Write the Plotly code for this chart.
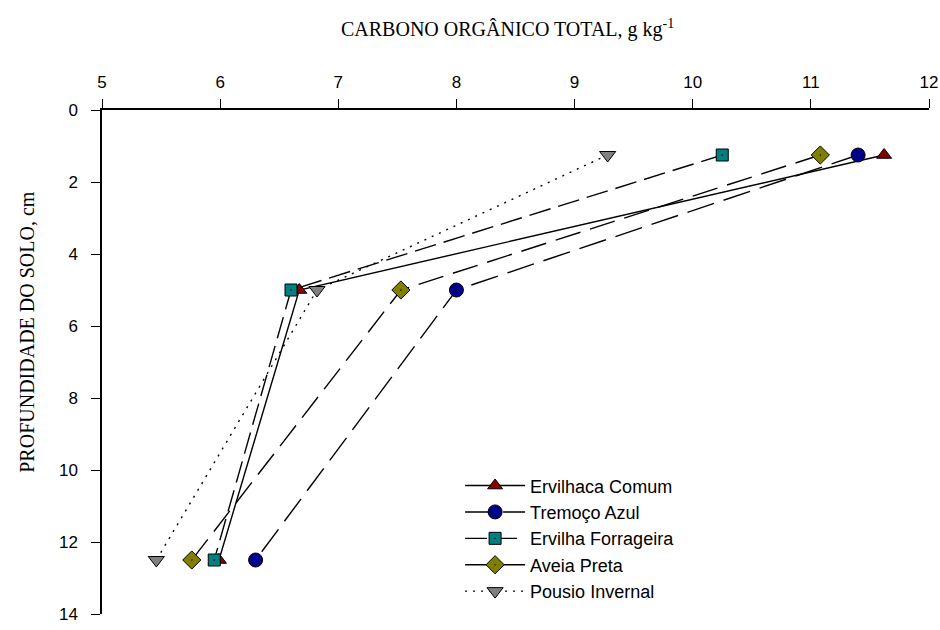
import plotly.graph_objects as go

depth = [1.25, 5, 12.5]
ervilhaca_comum = [11.62, 6.67, 5.99]
tremoco_azul = [11.4, 8.0, 6.3]
ervilha_forrageira = [10.25, 6.6, 5.95]
aveia_preta = [11.08, 7.53, 5.76]
pousio_invernal = [9.28, 6.82, 5.46]

series = [
    ("Ervilhaca Comum", ervilhaca_comum, "triangle-up-dot", "#8B0000", "solid", 13),
    ("Tremoço Azul", tremoco_azul, "circle-dot", "#00008B", "28px,10px", 14),
    ("Ervilha Forrageira", ervilha_forrageira, "square-dot", "#008080", "22px,8px", 12),
    ("Aveia Preta", aveia_preta, "diamond-dot", "#808000", "26px,10px", 14),
    ("Pousio Invernal", pousio_invernal, "triangle-down", "#808080", "2px,6px", 14),
]

fig = go.Figure()
for name, xs, sym, col, dash, size in series:
    fig.add_trace(go.Scatter(
        x=xs, y=depth, name=name, mode="lines+markers",
        line=dict(color="black", width=1.4, dash=dash),
        marker=dict(symbol=sym, size=size, color=col,
                    line=dict(color="black", width=1)),
    ))

fig.update_layout(
    width=940, height=630,
    margin=dict(l=102, r=11, t=110, b=16),
    plot_bgcolor="white", paper_bgcolor="white",
    font=dict(family="Liberation Sans, Arial", size=17, color="black"),
    showlegend=True,
    legend=dict(x=0.433, y=0.291, xanchor="left", yanchor="top",
                bgcolor="rgba(0,0,0,0)", tracegroupgap=0, itemwidth=60,
                font=dict(family="Liberation Sans, Arial", size=18)),
    annotations=[
        dict(text="CARBONO ORGÂNICO TOTAL, g kg<sup>-1</sup>",
             xref="paper", yref="paper", x=0.49, y=1, yshift=82,
             xanchor="center", yanchor="middle", showarrow=False,
             font=dict(family="Liberation Serif, Times New Roman", size=20)),
        dict(text="PROFUNDIDADE DO SOLO, cm",
             xref="paper", yref="paper", x=0, xshift=-75, y=0.56,
             xanchor="center", yanchor="middle", showarrow=False, textangle=-90,
             font=dict(family="Liberation Serif, Times New Roman", size=20)),
    ],
)
fig.update_xaxes(range=[5, 12], side="top", tick0=5, dtick=1,
                 showgrid=False, zeroline=False, automargin=False,
                 showline=True, linecolor="black", linewidth=1.5,
                 ticks="outside", ticklen=9, tickcolor="black", tickwidth=1,
                 ticklabelstandoff=4, ticklabeloverflow="allow")
fig.update_yaxes(range=[14, 0], tick0=0, dtick=2, automargin=False,
                 showgrid=False, zeroline=False,
                 showline=True, linecolor="black", linewidth=1.5,
                 ticks="outside", ticklen=9, tickcolor="black", tickwidth=1,
                 ticklabelstandoff=10)

fig.write_html("out.html", config={"displayModeBar": False},
               post_script="document.body.style.margin='0';")
